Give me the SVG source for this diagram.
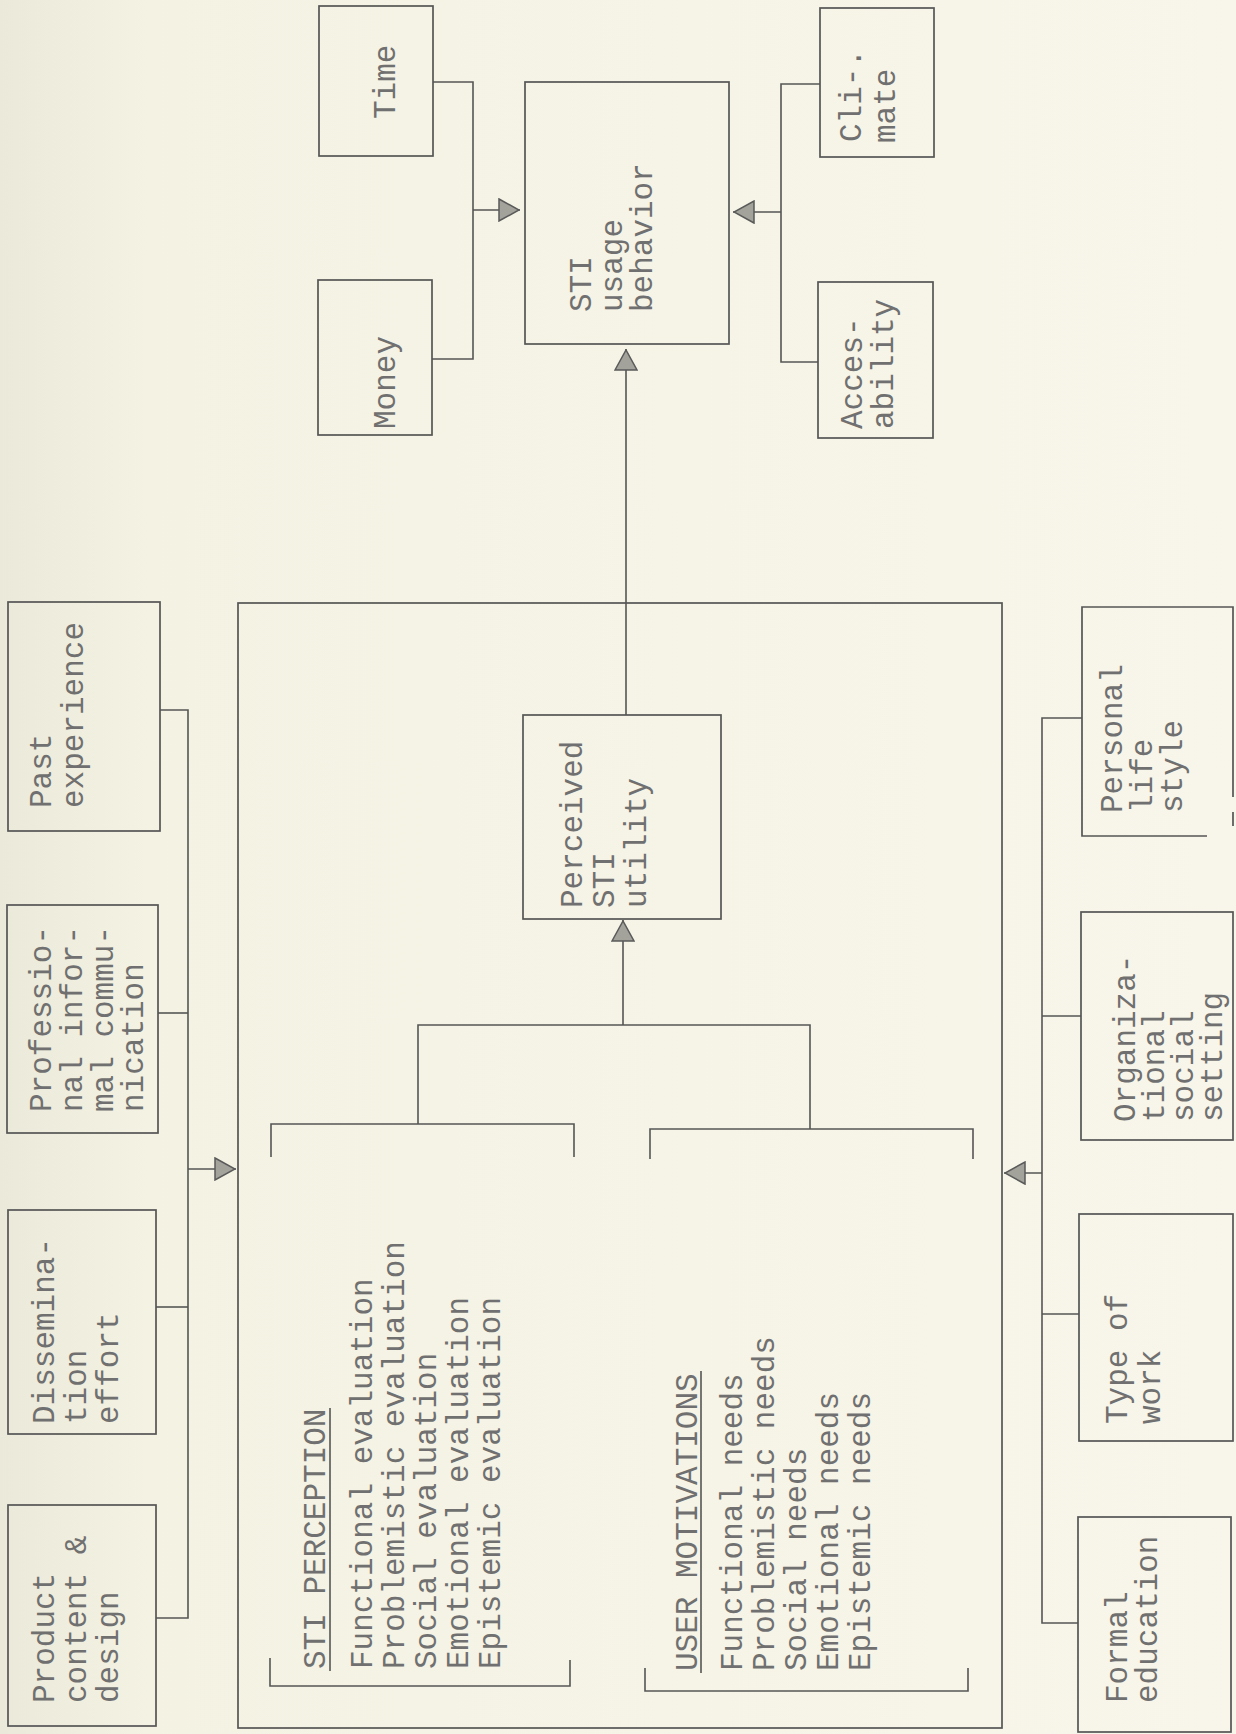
<svg xmlns="http://www.w3.org/2000/svg" width="1236" height="1734" viewBox="0 0 1236 1734">
<defs>
<linearGradient id="bg" x1="0" y1="0" x2="1" y2="0">
<stop offset="0" stop-color="#ebe9d9"/>
<stop offset="0.12" stop-color="#f4f2e3"/>
<stop offset="1" stop-color="#f8f6ea"/>
</linearGradient>
<marker id="tri" viewBox="0 0 22 24" refX="22" refY="12" markerWidth="22" markerHeight="24" markerUnits="userSpaceOnUse" orient="auto">
<path d="M1,1 L21,12 L1,23 Z" fill="#a3a39c" stroke="#5a5a5a" stroke-width="1.5"/>
</marker>
<style>
.box{fill:none;stroke:#555;stroke-width:1.7}
.ln{fill:none;stroke:#555;stroke-width:1.6}
.t{font-family:"Liberation Mono","Courier New",monospace;font-size:31px;fill:#707070}
</style>
</defs>
<rect x="0" y="0" width="1236" height="1734" fill="url(#bg)"/>

<g id="connectors">
<polyline class="ln" points="433,82 473,82 473,359 432,359"/>
<line class="ln" x1="473" y1="210" x2="520" y2="210" marker-end="url(#tri)"/>
<polyline class="ln" points="820,84 781,84 781,362 818,362"/>
<line class="ln" x1="781" y1="212" x2="733" y2="212" marker-end="url(#tri)"/>
<line class="ln" x1="626" y1="715" x2="626" y2="349" marker-end="url(#tri)"/>
<polyline class="ln" points="160,710 188,710 188,1618 156,1618"/>
<line class="ln" x1="158" y1="1013" x2="188" y2="1013"/>
<line class="ln" x1="156" y1="1307" x2="188" y2="1307"/>
<line class="ln" x1="188" y1="1169" x2="236" y2="1169" marker-end="url(#tri)"/>
<polyline class="ln" points="1082,718 1042,718 1042,1623 1078,1623"/>
<line class="ln" x1="1042" y1="1016" x2="1081" y2="1016"/>
<line class="ln" x1="1042" y1="1314" x2="1079" y2="1314"/>
<line class="ln" x1="1042" y1="1173" x2="1004" y2="1173" marker-end="url(#tri)"/>
<polyline class="ln" points="418,1124 418,1025 810,1025 810,1129"/>
<line class="ln" x1="623" y1="1025" x2="623" y2="920" marker-end="url(#tri)"/>
</g>

<g id="container">
<rect class="box" x="238" y="603" width="764" height="1125"/>
</g>

<g id="time">
<rect class="box" x="319" y="6" width="114" height="150"/>
<text class="t" transform="translate(395,119) rotate(-90)">Time</text>
</g>
<g id="money">
<rect class="box" x="318" y="280" width="114" height="155"/>
<text class="t" transform="translate(395,429) rotate(-90)">Money</text>
</g>
<g id="sti-usage-behavior">
<rect class="box" x="525" y="82" width="204" height="262"/>
<text class="t" transform="translate(591,312) rotate(-90)">STI</text>
<text class="t" transform="translate(622,312) rotate(-90)">usage</text>
<text class="t" transform="translate(652,312) rotate(-90)">behavior</text>
</g>
<g id="climate">
<rect class="box" x="820" y="8" width="114" height="149"/>
<text class="t" transform="translate(861,142) rotate(-90)">Cli-.</text>
<text class="t" transform="translate(895,143) rotate(-90)">mate</text>
</g>
<g id="accessability">
<rect class="box" x="818" y="282" width="115" height="156"/>
<text class="t" transform="translate(862,429) rotate(-90)">Acces-</text>
<text class="t" transform="translate(893,429) rotate(-90)">ability</text>
</g>

<g id="past-experience">
<rect class="box" x="8" y="602" width="152" height="229"/>
<text class="t" transform="translate(51,808) rotate(-90)">Past</text>
<text class="t" transform="translate(83,808) rotate(-90)">experience</text>
</g>
<g id="professional-communication">
<rect class="box" x="7" y="905" width="151" height="228"/>
<text class="t" transform="translate(51,1112) rotate(-90)">Professio-</text>
<text class="t" transform="translate(82,1112) rotate(-90)">nal infor-</text>
<text class="t" transform="translate(113,1112) rotate(-90)">mal commu-</text>
<text class="t" transform="translate(143,1112) rotate(-90)">nication</text>
</g>
<g id="dissemination-effort">
<rect class="box" x="8" y="1210" width="148" height="224"/>
<text class="t" transform="translate(54,1424) rotate(-90)">Dissemina-</text>
<text class="t" transform="translate(86,1424) rotate(-90)">tion</text>
<text class="t" transform="translate(118,1424) rotate(-90)">effort</text>
</g>
<g id="product-content-design">
<rect class="box" x="8" y="1505" width="148" height="221"/>
<text class="t" transform="translate(54,1703) rotate(-90)">Product</text>
<text class="t" transform="translate(86,1703) rotate(-90)">content &amp;</text>
<text class="t" transform="translate(118,1703) rotate(-90)">design</text>
</g>

<g id="perceived-sti-utility">
<rect class="box" x="523" y="715" width="198" height="204"/>
<text class="t" transform="translate(582,908) rotate(-90)">Perceived</text>
<text class="t" transform="translate(614,908) rotate(-90)">STI</text>
<text class="t" transform="translate(646,908) rotate(-90)">utility</text>
</g>

<g id="sti-perception">
<polyline class="ln" points="271,1157 271,1124 574,1124 574,1157"/>
<polyline class="ln" points="270,1658 270,1686 570,1686 570,1660"/>
<text class="t" transform="translate(325,1669) rotate(-90)">STI PERCEPTION</text>
<line class="ln" x1="330" y1="1671" x2="330" y2="1408"/>
<text class="t" transform="translate(372,1669) rotate(-90)">Functional evaluation</text>
<text class="t" transform="translate(404,1669) rotate(-90)">Problemistic evaluation</text>
<text class="t" transform="translate(436,1669) rotate(-90)">Social evaluation</text>
<text class="t" transform="translate(468,1669) rotate(-90)">Emotional evaluation</text>
<text class="t" transform="translate(500,1669) rotate(-90)">Epistemic evaluation</text>
</g>

<g id="user-motivations">
<polyline class="ln" points="650,1159 650,1129 973,1129 973,1159"/>
<polyline class="ln" points="645,1668 645,1691 968,1691 968,1668"/>
<text class="t" transform="translate(697,1671) rotate(-90)">USER MOTIVATIONS</text>
<line class="ln" x1="701" y1="1673" x2="701" y2="1371"/>
<text class="t" transform="translate(742,1671) rotate(-90)">Functional needs</text>
<text class="t" transform="translate(774,1671) rotate(-90)">Problemistic needs</text>
<text class="t" transform="translate(806,1671) rotate(-90)">Social needs</text>
<text class="t" transform="translate(838,1671) rotate(-90)">Emotional needs</text>
<text class="t" transform="translate(870,1671) rotate(-90)">Epistemic needs</text>
</g>

<g id="personal-life-style">
<path class="box" d="M1207,836 L1082,836 L1082,607 L1233,607 L1233,797 M1233,812 L1233,826"/>
<text class="t" transform="translate(1122,813) rotate(-90)">Personal</text>
<text class="t" transform="translate(1152,813) rotate(-90)">life</text>
<text class="t" transform="translate(1182,813) rotate(-90)">style</text>
</g>
<g id="organizational-social-setting">
<rect class="box" x="1081" y="912" width="152" height="228"/>
<text class="t" transform="translate(1135,1122) rotate(-90)">Organiza-</text>
<text class="t" transform="translate(1164,1122) rotate(-90)">tional</text>
<text class="t" transform="translate(1193,1122) rotate(-90)">social</text>
<text class="t" transform="translate(1222,1122) rotate(-90)">setting</text>
</g>
<g id="type-of-work">
<rect class="box" x="1079" y="1214" width="154" height="227"/>
<text class="t" transform="translate(1127,1424) rotate(-90)">Type of</text>
<text class="t" transform="translate(1160,1424) rotate(-90)">work</text>
</g>
<g id="formal-education">
<rect class="box" x="1078" y="1517" width="153" height="215"/>
<text class="t" transform="translate(1127,1703) rotate(-90)">Formal</text>
<text class="t" transform="translate(1157,1703) rotate(-90)">education</text>
</g>
</svg>
